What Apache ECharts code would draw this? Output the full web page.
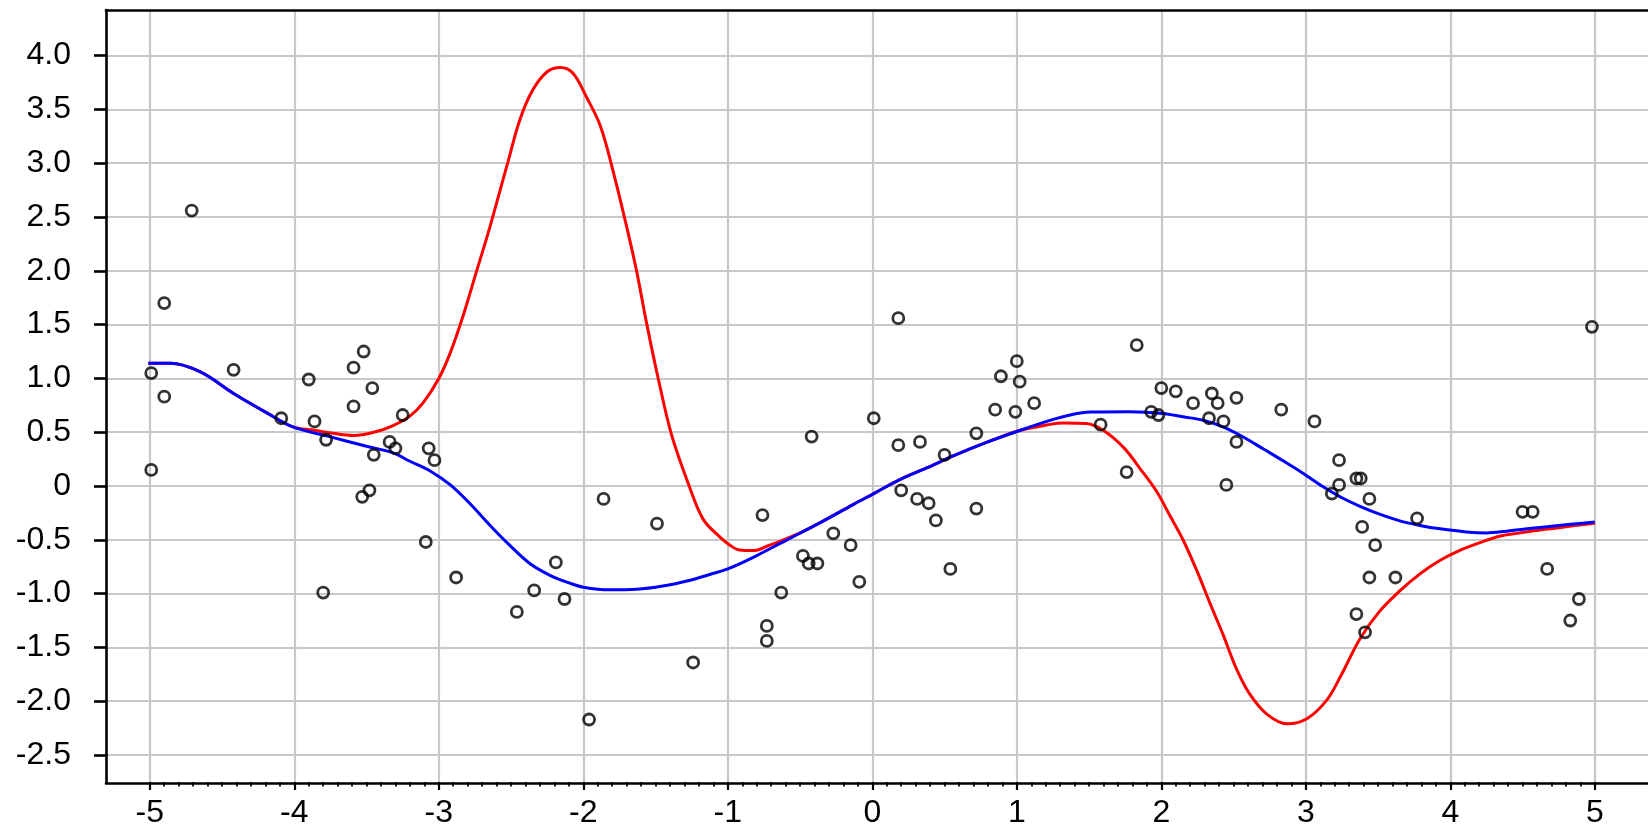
<!DOCTYPE html>
<html>
<head>
<meta charset="utf-8">
<script src="https://cdn.jsdelivr.net/npm/echarts@6/dist/echarts.min.js"></script>
<style>
  html, body { margin: 0; padding: 0; background: #ffffff; }
  #chart { width: 1648px; height: 829px; }
</style>
</head>
<body>
<div id="chart"></div>
<script>
// Observations
const obsX = [-4.71, -4.90, -4.99, -4.90, -4.99, -4.42, -4.09, -3.90, -3.86, -3.78, -3.80, -3.59, -3.52, -3.46, -3.59, -3.25, -3.34, -3.30, -3.45, -3.48, -3.53,
  -3.07, -3.03, -3.09, -2.88, -2.46, -2.34, -2.19, -2.13, -1.96, -1.86, -1.49, -1.24,
  -0.76, -0.63, -0.73, -0.73, -0.42, -0.48, -0.44, -0.38, -0.27, -0.15, -0.09, 0.01, 0.18, 0.18, 0.33, 0.20, 0.31, 0.39, 0.44, 0.50, 0.54, 0.72, 0.72, 0.85, 0.89, 1.00, 1.02, 0.99, 1.12,
  1.58, 1.76, 1.83, 1.93, 1.98, 2.00, 2.10, 2.22, 2.35, 2.39, 2.52, 2.33, 2.43, 2.52, 2.45, 2.83, 3.06, 3.23, 3.23, 3.18,
  3.35, 3.38, 3.44, 3.39, 3.48, 3.44, 3.62, 3.35, 3.41, 3.77, 4.50, 4.57, 4.67, 4.89, 4.83, 4.98];
const obsY = [2.56, 1.70, 1.05, 0.83, 0.15, 1.08, 0.63, 0.99, 0.60, 0.43, -0.99, 1.10, 1.25, 0.91, 0.74, 0.66, 0.41, 0.35, 0.29, -0.04, -0.10,
  0.35, 0.24, -0.52, -0.85, -1.17, -0.97, -0.71, -1.05, -2.17, -0.12, -0.35, -1.64,
  -0.27, -0.99, -1.30, -1.44, 0.46, -0.65, -0.72, -0.72, -0.44, -0.55, -0.89, 0.63, 1.56, 0.38, 0.41, -0.04, -0.12, -0.16, -0.32, 0.29, -0.77, 0.49, -0.21, 0.71, 1.02, 1.16, 0.97, 0.69, 0.77,
  0.57, 0.13, 1.31, 0.69, 0.66, 0.91, 0.88, 0.77, 0.86, 0.77, 0.82, 0.63, 0.60, 0.41, 0.01, 0.71, 0.60, 0.24, 0.01, -0.07,
  0.07, 0.07, -0.12, -0.38, -0.55, -0.85, -0.85, -1.19, -1.36, -0.30, -0.24, -0.24, -0.77, -1.05, -1.25, 1.48];

// Red fitted curve
const redX = [-5.01, -4.86, -4.65, -4.42, -4.19, -4.01, -3.87, -3.73, -3.59, -3.45, -3.32, -3.20, -3.11, -3.00, -2.92, -2.83, -2.74, -2.65, -2.53, -2.44, -2.35, -2.25, -2.16, -2.07, -1.98, -1.88, -1.79, -1.70, -1.63, -1.56, -1.48, -1.39, -1.27, -1.17, -1.05, -0.985, -0.92, -0.82, -0.73, -0.64, -0.50,
  -0.36, -0.13, 0.01, 0.19, 0.38, 0.56, 0.79, 1.02, 1.23, 1.32, 1.48, 1.60, 1.74, 1.85, 1.97, 2.06, 2.15, 2.245, 2.34, 2.43, 2.52, 2.61, 2.73, 2.87, 3.01, 3.145, 3.24, 3.375, 3.51, 3.65, 3.79, 3.93, 4.07, 4.21, 4.34, 4.46, 4.67, 4.85, 5.00];
const redY = [1.14, 1.14, 1.06, 0.86, 0.68, 0.55, 0.52, 0.49, 0.47, 0.50, 0.56, 0.65, 0.77, 1.00, 1.24, 1.59, 1.99, 2.39, 2.97, 3.40, 3.68, 3.85, 3.89, 3.835, 3.62, 3.34, 2.906, 2.41, 1.99, 1.50, 0.99, 0.48, 0.01, -0.31, -0.48, -0.55, -0.595, -0.60, -0.56, -0.515, -0.436,
  -0.34, -0.17, -0.07, 0.06, 0.17, 0.28, 0.405, 0.516, 0.573, 0.585, 0.58, 0.516, 0.357, 0.167, -0.055, -0.277, -0.499, -0.784, -1.10, -1.39, -1.70, -1.93, -2.12, -2.21, -2.16, -1.99, -1.77, -1.42, -1.165, -0.975, -0.816, -0.69, -0.595, -0.524, -0.467, -0.44, -0.40, -0.37, -0.345];

// Blue fitted curve
const blueX = [-5.01, -4.86, -4.65, -4.42, -4.19, -4.01, -3.73, -3.50, -3.32, -3.20, -3.06, -2.92, -2.78, -2.65, -2.51, -2.37, -2.23, -2.09, -2.00, -1.82, -1.63, -1.45, -1.26, -1.12, -1.00, -0.82, -0.59, -0.36, -0.13, 0.01, 0.19, 0.38, 0.56, 0.79, 1.02, 1.23, 1.37, 1.51, 1.78, 2.01, 2.15, 2.29, 2.43, 2.57, 2.71, 2.84, 2.98, 3.12, 3.24, 3.375, 3.51, 3.65, 3.79, 3.93, 4.11, 4.25, 4.39, 4.53, 4.67, 4.83, 5.00];
const blueY = [1.14, 1.14, 1.06, 0.86, 0.68, 0.55, 0.45, 0.37, 0.31, 0.23, 0.14, 0.01, -0.17, -0.36, -0.55, -0.72, -0.83, -0.905, -0.94, -0.965, -0.96, -0.93, -0.875, -0.82, -0.77, -0.66, -0.50, -0.34, -0.17, -0.07, 0.06, 0.17, 0.28, 0.405, 0.516, 0.61, 0.66, 0.687, 0.69, 0.675, 0.643, 0.611, 0.547, 0.453, 0.341, 0.237, 0.119, -0.007, -0.102, -0.189, -0.261, -0.324, -0.366, -0.398, -0.427, -0.436, -0.42, -0.398, -0.378, -0.356, -0.335];

// Axis ticks
const xTicks = [-5, -4, -3, -2, -1, 0, 1, 2, 3, 4, 5];
const yTicks = [-2.5, -2.0, -1.5, -1.0, -0.5, 0, 0.5, 1.0, 1.5, 2.0, 2.5, 3.0, 3.5, 4.0];

// Plot frame in pixels and the data range it covers
const frame = { left: 106, top: 10, right: 1648, bottom: 783 };
const xRange = [-5.303, 5.368];
const yRange = [-2.760, 4.424];

const plotW = frame.right - frame.left;
const plotH = frame.bottom - frame.top;
const pxPerX = plotW / (xRange[1] - xRange[0]);
const pxPerY = plotH / (yRange[1] - yRange[0]);

const xStep = xTicks[1] - xTicks[0];
const yStep = +(yTicks[1] - yTicks[0]).toFixed(3);

// Tick grids: share the frame, but span exactly the tick range so ticks start on round values
const tickGridX = {
  left: frame.left + (xTicks[0] - xRange[0]) * pxPerX,
  top: frame.top,
  width: (xTicks[xTicks.length - 1] - xTicks[0]) * pxPerX,
  height: plotH
};
const tickGridY = {
  left: frame.left,
  top: frame.top + (yRange[1] - yTicks[yTicks.length - 1]) * pxPerY,
  width: plotW,
  height: (yTicks[yTicks.length - 1] - yTicks[0]) * pxPerY
};

const FONT = 'Liberation Sans, Arial, sans-serif';
const GRID_LINE = { color: '#c8c8c8', width: 2.2 };
const AXIS_LINE = { color: '#000000', width: 2.6 };

const chart = echarts.init(document.getElementById('chart'), null, { renderer: 'canvas' });

const hidden = { show: false };

chart.setOption({
  animation: false,
  backgroundColor: '#ffffff',
  grid: [
    { left: frame.left, top: frame.top, width: plotW, height: plotH },
    tickGridX,
    tickGridY
  ],
  xAxis: [
    { // data axis (bottom frame line)
      gridIndex: 0, type: 'value', min: xRange[0], max: xRange[1], position: 'bottom',
      axisLine: { show: true, onZero: false, lineStyle: AXIS_LINE },
      axisTick: hidden, axisLabel: hidden, splitLine: hidden, z: 5
    },
    { // top frame line
      gridIndex: 0, type: 'value', min: xRange[0], max: xRange[1], position: 'top',
      axisLine: { show: true, onZero: false, lineStyle: AXIS_LINE },
      axisTick: hidden, axisLabel: hidden, splitLine: hidden, z: 5
    },
    { // integer ticks, labels and vertical grid lines
      gridIndex: 1, type: 'value', min: xTicks[0], max: xTicks[xTicks.length - 1], interval: xStep,
      position: 'bottom',
      axisLine: { show: false, onZero: false },
      axisTick: { show: true, length: 8, lineStyle: { color: '#000', width: 2.2 } },
      minorTick: { show: true, splitNumber: 10, length: 4.5, lineStyle: { color: '#000', width: 1.8 } },
      axisLabel: { show: true, fontSize: 32, color: '#000', fontFamily: FONT, margin: 15,
        formatter: v => String(v) },
      splitLine: { show: true, lineStyle: GRID_LINE }
    },
    { gridIndex: 2, type: 'value', min: 0, max: 1, show: false }
  ],
  yAxis: [
    { // data axis (left frame line)
      gridIndex: 0, type: 'value', min: yRange[0], max: yRange[1],
      axisLine: { show: true, onZero: false, lineStyle: AXIS_LINE },
      axisTick: hidden, axisLabel: hidden, splitLine: hidden, z: 5
    },
    { gridIndex: 1, type: 'value', min: 0, max: 1, show: false },
    { // half-unit ticks, labels and horizontal grid lines
      gridIndex: 2, type: 'value', min: yTicks[0], max: yTicks[yTicks.length - 1], interval: yStep,
      axisLine: { show: false, onZero: false },
      axisTick: { show: true, length: 12, lineStyle: { color: '#000', width: 2.6 } },
      axisLabel: { show: true, fontSize: 32, color: '#000', fontFamily: FONT, margin: 35,
        formatter: v => (Math.abs(v) < 1e-9 ? '0' : v.toFixed(1)) },
      splitLine: { show: true, lineStyle: GRID_LINE }
    }
  ],
  series: [
    {
      name: 'red', type: 'line', xAxisIndex: 0, yAxisIndex: 0,
      data: redX.map((x, i) => [x, redY[i]]),
      showSymbol: false, smooth: 0.35, clip: true,
      lineStyle: { color: '#ff0000', width: 3 }, z: 3
    },
    {
      name: 'blue', type: 'line', xAxisIndex: 0, yAxisIndex: 0,
      data: blueX.map((x, i) => [x, blueY[i]]),
      showSymbol: false, smooth: 0.35, clip: true,
      lineStyle: { color: '#0000ff', width: 3 }, z: 4
    },
    {
      name: 'obs', type: 'scatter', xAxisIndex: 0, yAxisIndex: 0,
      data: obsX.map((x, i) => [x, obsY[i]]),
      symbol: 'circle', symbolSize: 11,
      itemStyle: { color: 'rgba(255,255,255,0)', borderColor: '#000000', borderWidth: 2.8 },
      z: 6
    }
  ]
});
</script>
</body>
</html>
